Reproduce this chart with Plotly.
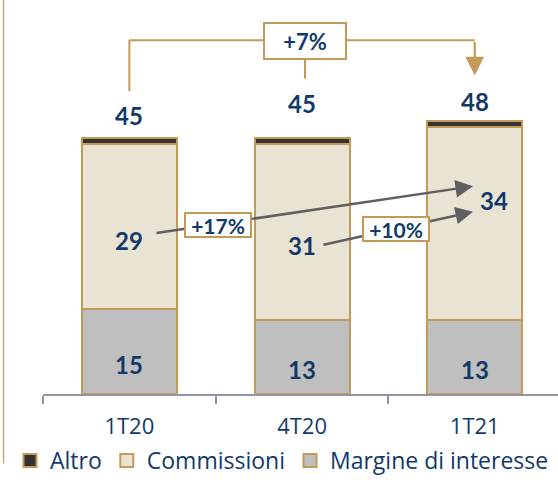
import plotly.graph_objects as go

categories = ["1T20", "4T20", "1T21"]
margine = [15, 13, 13]
commissioni = [29, 31, 34]
altro = [1, 1, 1]
totals = [45, 45, 48]
growth_total = "+7%"
growth_comm = ["+17%", "+10%"]

NAVY = "#12396A"
TAN = "#C49A58"
GREY_ARROW = "#5F5F5F"
FONT = "Lato, Open Sans, sans-serif"
FONT2 = "Open Sans, sans-serif"
COL_M, COL_C, COL_A = "#BFBFBF", "#E8E3D2", "#333333"

W, H = 558, 482
ML, MB = 43, 80
PLOT_W = W - ML
PLOT_H = H - MB
CAT_PX = 172.7          # pixels per category
X0 = -0.5
X1 = X0 + PLOT_W / CAT_PX
PX_PER_UNIT = 5.8
Y1 = PLOT_H / PX_PER_UNIT


def dx(p):
    return X0 + (p - ML) / CAT_PX


def dy(p):
    return (PLOT_H - p) / PX_PER_UNIT


fig = go.Figure()
line = dict(color=TAN, width=2)
fig.add_trace(go.Bar(name="Margine di interesse", x=categories, y=margine, showlegend=False,
                     marker=dict(color=COL_M, line=line), width=0.55))
fig.add_trace(go.Bar(name="Commissioni", x=categories, y=commissioni, showlegend=False,
                     marker=dict(color=COL_C, line=line), width=0.55))
fig.add_trace(go.Bar(name="Altro", x=categories, y=altro, showlegend=False,
                     marker=dict(color=COL_A, line=line), width=0.55))
# legend entries (square swatches)
for name, col in [("Altro", COL_A), ("Commissioni", COL_C), ("Margine di interesse", COL_M)]:
    fig.add_trace(go.Scatter(name=name, x=[None], y=[None], mode="markers",
                             marker=dict(symbol="square", size=13, color=col,
                                         line=dict(color=TAN, width=2))))

VF = dict(size=24, color=NAVY, family=FONT)
ann = []
# total labels
tot_shift = [23, 35, 20]
for i, t in enumerate(totals):
    ann.append(dict(x=categories[i], y=t, text=f"<b>{t}</b>", showarrow=False,
                    yanchor="middle", yshift=tot_shift[i], font=VF))
# segment labels
m_shift = [-13.5, -12.7, -12.7]
c_shift = [-14, -13.3, 23]
c_xshift = [0, 0, 19]
for i in range(3):
    ann.append(dict(x=categories[i], y=margine[i] / 2, text=f"<b>{margine[i]}</b>",
                    showarrow=False, yshift=m_shift[i], font=VF))
    ann.append(dict(x=categories[i], y=margine[i] + commissioni[i] / 2,
                    text=f"<b>{commissioni[i]}</b>", showarrow=False,
                    yshift=c_shift[i], xshift=c_xshift[i], font=VF))

# grey growth arrows
ann.append(dict(x=dx(473), y=dy(190), ax=dx(155), ay=dy(238), xref="x", yref="y",
                axref="x", ayref="y", showarrow=True, arrowhead=2, arrowsize=1.4,
                arrowwidth=2.5, arrowcolor=GREY_ARROW, text=""))
ann.append(dict(x=dx(473), y=dy(216), ax=dx(322), ay=dy(250), xref="x", yref="y",
                axref="x", ayref="y", showarrow=True, arrowhead=2, arrowsize=1.4,
                arrowwidth=2.5, arrowcolor=GREY_ARROW, text=""))
# boxes
BF = dict(size=21, color=NAVY, family=FONT)
ann.append(dict(x=dx(218), y=dy(230), text=f"<b>{growth_comm[0]}</b>", showarrow=False,
                bgcolor="white", bordercolor=TAN, borderwidth=2, borderpad=1,
                width=62, height=20, font=BF))
ann.append(dict(x=dx(396), y=dy(234), text=f"<b>{growth_comm[1]}</b>", showarrow=False,
                bgcolor="white", bordercolor=TAN, borderwidth=2, borderpad=1,
                width=62, height=20, font=BF))

# bracket down arrow on the right
ann.append(dict(x=2, y=dy(77), ax=2, ay=dy(41), xref="x", yref="y", axref="x", ayref="y",
                showarrow=True, arrowhead=2, arrowsize=1.7, arrowwidth=2.2,
                arrowcolor=TAN, text=""))
ann.append(dict(x=dx(305), y=dy(42), text=f"<b>{growth_total}</b>", showarrow=False,
                bgcolor="white", bordercolor=TAN, borderwidth=2, borderpad=2,
                width=76, height=30, font=dict(size=22, color=NAVY, family=FONT)))

shapes = [
    dict(type="line", xref="x", yref="y", x0=0, x1=2, y0=dy(41), y1=dy(41), line=line),
    dict(type="line", xref="x", yref="y", x0=0, x1=0, y0=dy(41), y1=dy(93), line=line),
    dict(type="line", xref="x", yref="y", x0=dx(305), x1=dx(305), y0=dy(61), y1=dy(80), line=line),
    # thin left frame line
    dict(type="line", xref="paper", yref="paper", x0=(3.5 - ML) / PLOT_W, x1=(3.5 - ML) / PLOT_W,
         y0=1, y1=(PLOT_H - 473) / PLOT_H, line=dict(color="#C9A978", width=1.5)),
]

fig.update_layout(
    width=W, height=H, barmode="stack",
    margin=dict(l=ML, r=0, t=0, b=MB),
    paper_bgcolor="white", plot_bgcolor="white",
    annotations=ann, shapes=shapes,
    xaxis=dict(range=[X0, X1], showline=True, linecolor="#8E96A8", linewidth=2,
               ticks="outside", tickson="boundaries", ticklen=8, tickcolor="#8E96A8",
               tickwidth=1.5, ticklabelstandoff=12,
               tickfont=dict(size=22, color=NAVY, family=FONT2), showgrid=False),
    yaxis=dict(range=[0, Y1], visible=False),
    legend=dict(orientation="h", traceorder="normal", x=(10 - ML) / PLOT_W, xanchor="left",
                y=(PLOT_H - 470) / PLOT_H, yanchor="middle", itemwidth=30,
                bgcolor="rgba(0,0,0,0)",
                font=dict(size=23, color=NAVY, family=FONT2)),
    showlegend=True,
)

fig.write_html("out.html")
